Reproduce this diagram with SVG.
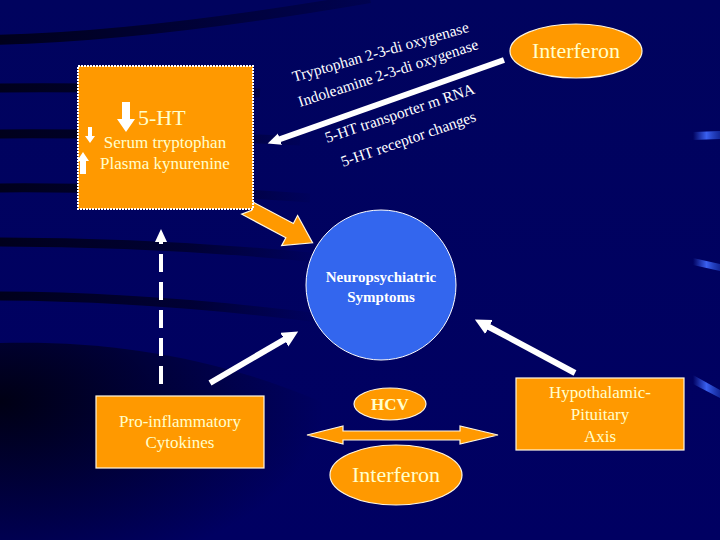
<svg xmlns="http://www.w3.org/2000/svg" width="720" height="540" viewBox="0 0 720 540">
<defs>
<linearGradient id="bg" x1="0" y1="0" x2="0" y2="1">
<stop offset="0" stop-color="#00035e"/>
<stop offset="1" stop-color="#000062"/>
</linearGradient>
<linearGradient id="fade" gradientUnits="userSpaceOnUse" x1="0" y1="0" x2="320" y2="0">
<stop offset="0" stop-color="#000018" stop-opacity="0.95"/>
<stop offset="0.6" stop-color="#000018" stop-opacity="0.6"/>
<stop offset="1" stop-color="#000018" stop-opacity="0"/>
</linearGradient>
<linearGradient id="fade2" gradientUnits="userSpaceOnUse" x1="0" y1="0" x2="420" y2="0">
<stop offset="0" stop-color="#000018" stop-opacity="0.95"/>
<stop offset="1" stop-color="#000018" stop-opacity="0.1"/>
</linearGradient>
<radialGradient id="dark" cx="0" cy="0.3" r="0.9">
<stop offset="0" stop-color="#000010" stop-opacity="0.95"/>
<stop offset="1" stop-color="#000010" stop-opacity="0"/>
</radialGradient>
<linearGradient id="blu" x1="0" y1="0" x2="1" y2="0">
<stop offset="0" stop-color="#3a60f0" stop-opacity="0"/>
<stop offset="0.5" stop-color="#3a60f0" stop-opacity="1"/>
<stop offset="1" stop-color="#2040c0" stop-opacity="0.6"/>
</linearGradient>
<marker id="ah" markerUnits="userSpaceOnUse" markerWidth="20" markerHeight="20" refX="1" refY="8" orient="auto">
<path d="M0,0 L16,8 L0,16 z" fill="#fff"/>
</marker>
<marker id="ahs" markerUnits="userSpaceOnUse" markerWidth="16" markerHeight="16" refX="1" refY="6" orient="auto">
<path d="M0,0 L13,6 L0,12 z" fill="#fff"/>
</marker>
<style>
.lbl{font-family:"Liberation Serif","Times New Roman",serif;fill:#ffffcc;text-anchor:middle}
.rot{font-family:"Liberation Serif","Times New Roman",serif;fill:#fff;font-size:15.5px}
.org{fill:#ff9900;stroke:#fff7e0;stroke-width:1.2}
.wl{stroke:#fff;stroke-width:6;fill:none}
</style>
</defs>
<rect x="0" y="0" width="720" height="540" fill="url(#bg)"/>
<g id="background" fill="none">
<path d="M-10,40 C100,38 230,22 370,-2" stroke="url(#fade2)" stroke-width="10"/>
<path d="M-10,88 C80,87 160,88 260,93" stroke="url(#fade)" stroke-width="9"/>
<path d="M-10,134 C90,133 180,135 300,141" stroke="url(#fade)" stroke-width="9"/>
<path d="M-10,188 C90,187 190,190 310,198" stroke="url(#fade)" stroke-width="9"/>
<path d="M-10,242 C90,242 200,246 320,258" stroke="url(#fade)" stroke-width="9"/>
<path d="M-10,296 C90,296 200,303 320,318" stroke="url(#fade)" stroke-width="9"/>
<path d="M0,343 C120,340 240,360 360,420 L360,540 L0,540 z" fill="url(#dark)"/>
<path d="M693,132 L720,131 L720,139 L693,140 z" fill="url(#blu)"/>
<path d="M693,258 L720,264 L720,271 L693,265 z" fill="url(#blu)"/>
<path d="M693,375 L720,390 L720,398 L693,384 z" fill="url(#blu)"/>
</g>
<g id="connectors">
<line class="wl" x1="504" y1="60" x2="279" y2="139.5" stroke-width="5" marker-end="url(#ahs)"/>
<line class="wl" x1="210" y1="383" x2="285.2" y2="339.1" marker-end="url(#ah)"/>
<line class="wl" x1="575" y1="373" x2="488.1" y2="326.5" marker-end="url(#ah)"/>
<line x1="161" y1="384" x2="161" y2="241" stroke="#fff" stroke-width="4" stroke-dasharray="18 10" marker-end="url(#ahs)"/>
<polygon class="org" stroke-width="2.5" transform="translate(249,209) rotate(28)" points="-4,-8 46,-8 46,-17 72,0 46,17 46,8 -4,8 3,0"/>
<polygon class="org" stroke-width="1.5" points="307,435 343,426 343,431 460,431 460,426 498,435 460,444 460,440 343,440 343,444"/>
</g>
<g id="text-labels">
<text class="rot" transform="translate(294,82) rotate(-16)">Tryptophan 2-3-di oxygenase</text>
<text class="rot" transform="translate(300,107) rotate(-18)">Indoleamine 2-3-di oxygenase</text>
<text class="rot" transform="translate(327,143) rotate(-18.5)">5-HT transporter m RNA</text>
<text class="rot" transform="translate(343,167) rotate(-19)">5-HT receptor changes</text>
</g>
<g id="serotonin-box">
<rect x="78" y="66" width="175" height="143" fill="#ff9900" stroke="#fff" stroke-width="2" stroke-dasharray="2 1"/>
<polygon fill="#fff" points="122,102 130,102 130,119 135,119 126,132 117,119 122,119"/>
<polygon fill="#fff" points="88,127 92,127 92,136 95,136 90,143 85,136 88,136"/>
<polygon fill="#fff" points="83,152 89,161 86,161 86,174 80,174 80,161 77,161"/>
<text class="lbl" x="138" y="125" font-size="22" style="text-anchor:start">5-HT</text>
<text class="lbl" x="165" y="148" font-size="17">Serum tryptophan</text>
<text class="lbl" x="165" y="169" font-size="17">Plasma kynurenine</text>
</g>
<g id="interferon-top">
<ellipse class="org" cx="576" cy="51" rx="66" ry="27"/>
<text class="lbl" x="576" y="58" font-size="22">Interferon</text>
</g>
<g id="neuro">
<circle cx="381" cy="285" r="75" fill="#3366ee" stroke="#fff" stroke-width="1"/>
<text class="lbl" x="381" y="282" font-size="15" font-weight="bold" style="fill:#fff">Neuropsychiatric</text>
<text class="lbl" x="381" y="302" font-size="15" font-weight="bold" style="fill:#fff">Symptoms</text>
</g>
<g id="cytokines">
<rect class="org" x="96" y="396" width="168" height="72"/>
<text class="lbl" x="180" y="427" font-size="17">Pro-inflammatory</text>
<text class="lbl" x="180" y="448" font-size="17">Cytokines</text>
</g>
<g id="hpa">
<rect class="org" x="516" y="378" width="168" height="72"/>
<text class="lbl" x="600" y="398" font-size="17">Hypothalamic-</text>
<text class="lbl" x="600" y="420" font-size="17">Pituitary</text>
<text class="lbl" x="600" y="442" font-size="17">Axis</text>
</g>
<g id="hcv">
<ellipse class="org" cx="390" cy="404" rx="36" ry="16"/>
<text class="lbl" x="390" y="410" font-size="17" font-weight="bold">HCV</text>
</g>
<g id="interferon-bottom">
<ellipse class="org" cx="396" cy="475" rx="66" ry="30"/>
<text class="lbl" x="396" y="482" font-size="22">Interferon</text>
</g>
</svg>
